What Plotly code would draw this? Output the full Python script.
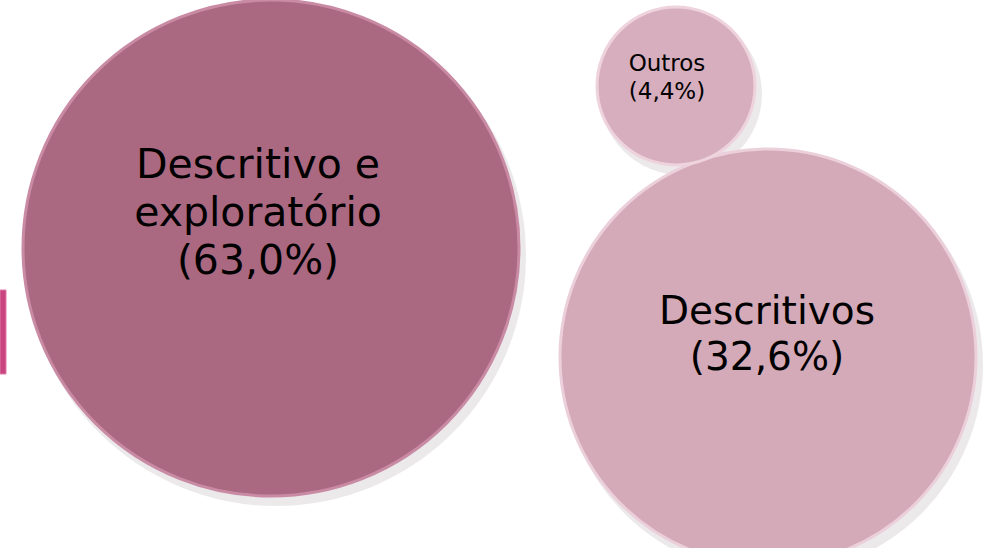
import plotly.graph_objects as go

# ---- data ----
categories = ["Descritivo e<br>exploratório", "Descritivos", "Outros"]
percent = [63.0, 32.6, 4.4]
labels = [f"{c}<br>({str(v).replace('.', ',')}%)" for c, v in zip(categories, percent)]

# ---- layout / style (pixel space: 1 axis unit = 1 px) ----
W, H = 992, 548
bubble_x = [271, 768, 676]
bubble_y = [248, 357, 86]
bubble_diam = [496, 416, 158]
text_x = [258, 767, 667]
text_y = [216, 337, 79]
text_size = [41, 39, 23]
line_gap = [48, 46, 27.5]
fill = ["#AB6881", "#D4A9B8", "#D6AEBD"]
rim = ["#C98BA3", "#EBCFDA", "#EED3DD"]

# one text mark per line so the line spacing can match the reference
tx, ty, tt, ts = [], [], [], []
for i, lab in enumerate(labels):
    lines = lab.split("<br>")
    n = len(lines)
    for j, ln in enumerate(lines):
        tx.append(text_x[i])
        ty.append(text_y[i] + (j - (n - 1) / 2) * line_gap[i])
        tt.append(ln)
        ts.append(text_size[i])

fig = go.Figure()

# soft drop shadow
fig.add_trace(go.Scatter(
    x=[x + 5 for x in bubble_x], y=[y + 8 for y in bubble_y], mode="markers",
    marker=dict(size=[d + 4 for d in bubble_diam], color="rgba(90,60,75,0.16)",
                line=dict(width=0)),
    hoverinfo="skip", showlegend=False))

fig.add_trace(go.Scatter(
    x=bubble_x, y=bubble_y, mode="markers",
    marker=dict(size=bubble_diam, color=fill, opacity=1,
                line=dict(width=3, color=rim)),
    hovertext=labels, hoverinfo="text", showlegend=False))

fig.add_trace(go.Scatter(
    x=tx, y=ty, mode="text", text=tt,
    textposition="middle center",
    textfont=dict(family="DejaVu Sans", size=ts, color="#000000"),
    hoverinfo="skip", showlegend=False))

# partially visible element at the left edge
fig.add_shape(type="rect", xref="paper", yref="paper",
              x0=0, x1=6 / W, y0=1 - 374 / H, y1=1 - 290 / H,
              fillcolor="#C8457F", line=dict(width=1, color="#E07AA8"), layer="below")

fig.update_layout(
    width=W, height=H, margin=dict(l=0, r=0, t=0, b=0),
    paper_bgcolor="#FFFFFF", plot_bgcolor="#FFFFFF",
    xaxis=dict(range=[0, W], visible=False, fixedrange=True),
    yaxis=dict(range=[H, 0], visible=False, fixedrange=True),
)

fig.write_html("out.html", config={"displayModeBar": False},
               post_script="document.body.style.margin='0px';document.body.style.overflow='hidden';")
